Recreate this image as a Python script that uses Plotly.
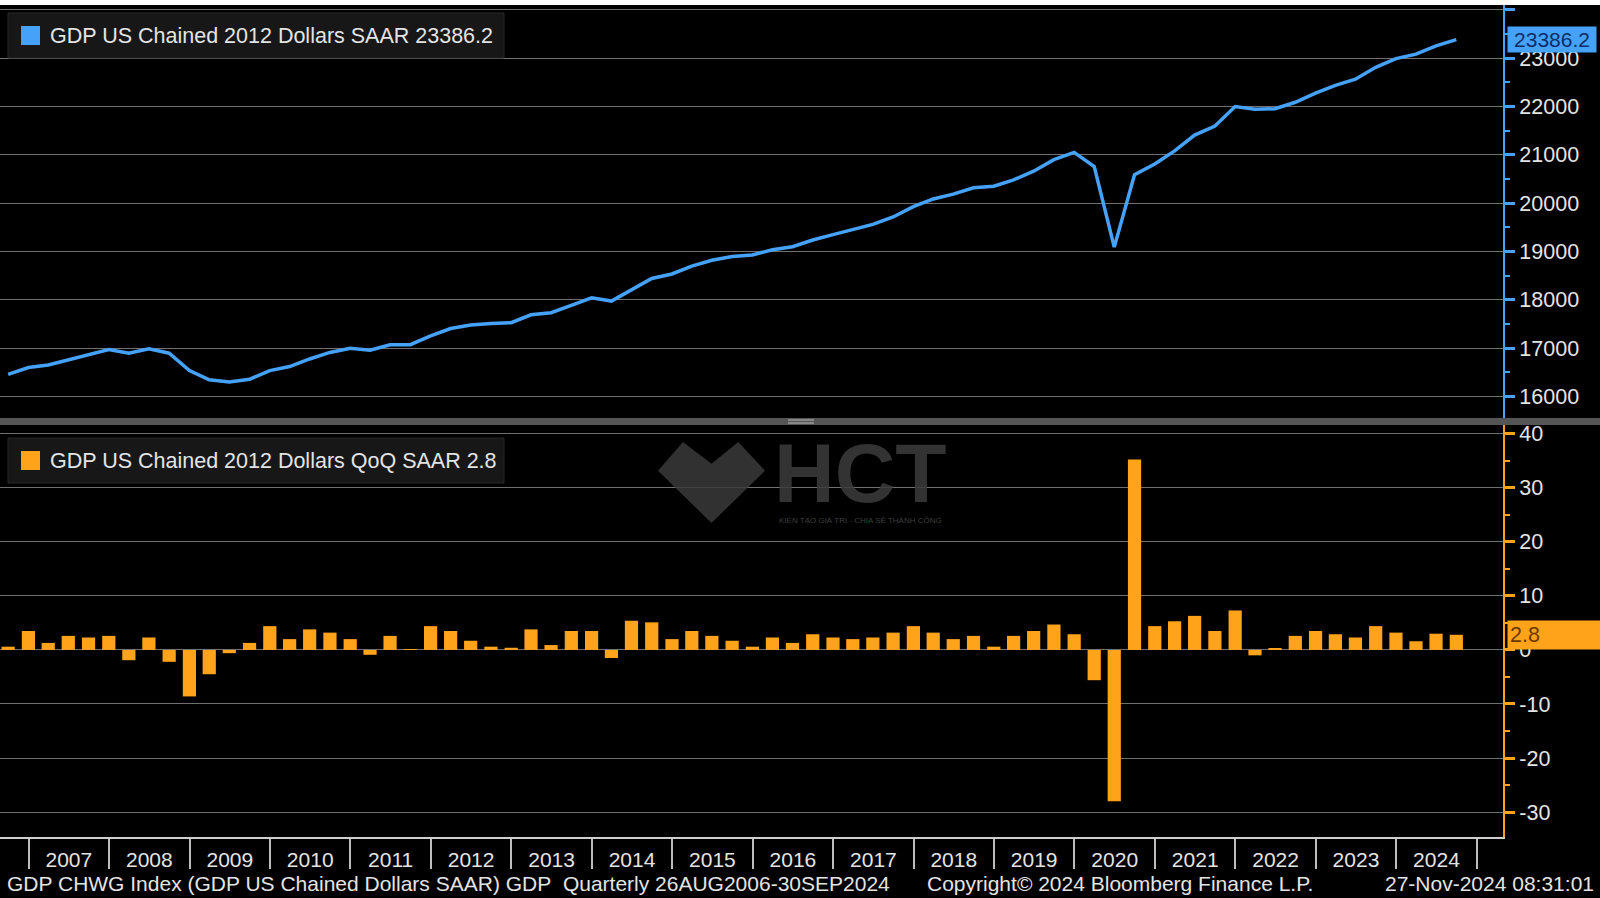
import pandas as pd
import plotly.graph_objects as go

# ---------------- data ----------------
QUARTERS = [
    "2006Q3", "2006Q4",
    "2007Q1", "2007Q2", "2007Q3", "2007Q4",
    "2008Q1", "2008Q2", "2008Q3", "2008Q4",
    "2009Q1", "2009Q2", "2009Q3", "2009Q4",
    "2010Q1", "2010Q2", "2010Q3", "2010Q4",
    "2011Q1", "2011Q2", "2011Q3", "2011Q4",
    "2012Q1", "2012Q2", "2012Q3", "2012Q4",
    "2013Q1", "2013Q2", "2013Q3", "2013Q4",
    "2014Q1", "2014Q2", "2014Q3", "2014Q4",
    "2015Q1", "2015Q2", "2015Q3", "2015Q4",
    "2016Q1", "2016Q2", "2016Q3", "2016Q4",
    "2017Q1", "2017Q2", "2017Q3", "2017Q4",
    "2018Q1", "2018Q2", "2018Q3", "2018Q4",
    "2019Q1", "2019Q2", "2019Q3", "2019Q4",
    "2020Q1", "2020Q2", "2020Q3", "2020Q4",
    "2021Q1", "2021Q2", "2021Q3", "2021Q4",
    "2022Q1", "2022Q2", "2022Q3", "2022Q4",
    "2023Q1", "2023Q2", "2023Q3", "2023Q4",
    "2024Q1", "2024Q2", "2024Q3",
]

GDP_LEVEL = [
    16455, 16598,
    16652, 16762, 16860, 16970,
    16892, 16988, 16895, 16535,
    16345, 16300, 16355, 16535,
    16618, 16775, 16910, 16995,
    16958, 17068, 17070, 17255,
    17405, 17480, 17508, 17526,
    17690, 17732, 17886, 18040,
    17974, 18212, 18442, 18535,
    18697, 18818, 18898, 18928,
    19037, 19100, 19238, 19350,
    19447, 19560, 19714, 19928,
    20087, 20188, 20320, 20352,
    20484, 20662, 20902, 21052,
    20758, 19090, 20590, 20812,
    21083, 21410, 21597, 22000,
    21945, 21955, 22090, 22278,
    22440, 22568, 22812, 22993,
    23085, 23256, 23386.2,
]

GDP_QOQ = [
    0.6, 3.5,
    1.3, 2.6, 2.3, 2.6,
    -1.9, 2.3, -2.2, -8.6,
    -4.5, -0.6, 1.3, 4.4,
    2.0, 3.8, 3.2, 2.0,
    -0.9, 2.6, 0.1, 4.4,
    3.5, 1.7, 0.6, 0.4,
    3.8, 0.9, 3.5, 3.5,
    -1.5, 5.4, 5.1, 2.0,
    3.5, 2.6, 1.7, 0.6,
    2.3, 1.3, 2.9, 2.3,
    2.0, 2.3, 3.2, 4.4,
    3.2, 2.0, 2.6, 0.6,
    2.6, 3.5, 4.7, 2.9,
    -5.6, -28.0, 35.2, 4.4,
    5.3, 6.3, 3.5, 7.3,
    -1.0, 0.3, 2.6, 3.5,
    2.9, 2.3, 4.4, 3.2,
    1.6, 3.0, 2.8,
]

LEVEL_TICKS = [16000, 17000, 18000, 19000, 20000, 21000, 22000, 23000, 24000]
LEVEL_TICK_TEXT = ["16000", "17000", "18000", "19000", "20000", "21000", "22000", "23000", ""]
QOQ_TICKS = [-30, -20, -10, 0, 10, 20, 30, 40]
QOQ_TICK_TEXT = ["-30", "-20", "-10", "0", "10", "20", "30", "40"]

LEVEL_NAME = "GDP US Chained 2012 Dollars SAAR"
QOQ_NAME = "GDP US Chained 2012 Dollars QoQ SAAR"
FOOTER_LEFT = "GDP CHWG Index (GDP US Chained Dollars SAAR) GDP\u00a0\u00a0Quarterly 26AUG2006-30SEP2024"
FOOTER_MID = "Copyright\u00a9 2024 Bloomberg Finance L.P."
FOOTER_RIGHT = "27-Nov-2024 08:31:01"

# ---------------- styling ----------------
W, H = 1600, 898
PL, PR, PT, PB = 0, 1503, 5, 837   # plot area in pixels
FONT = "Liberation Sans, Arial, sans-serif"
BLUE = "#45a2f8"
ORANGE = "#ffa31a"
GRID = "#707070"
TXT = "#e4e4e4"


def px(x):
    return (x - PL) / (PR - PL)


def py(y):
    return (PB - y) / (PB - PT)


dates = pd.PeriodIndex(QUARTERS, freq="Q").end_time.normalize()

fig = go.Figure()
fig.add_trace(go.Bar(
    x=dates, y=GDP_QOQ, xaxis="x", yaxis="y2",
    marker=dict(color=ORANGE, line=dict(width=0)),
    width=60 * 86400000, name=QOQ_NAME,
))
fig.add_trace(go.Scatter(
    x=dates, y=GDP_LEVEL, xaxis="x2", yaxis="y", mode="lines",
    line=dict(color=BLUE, width=3.5), name=LEVEL_NAME,
))

top_dom = [py(418), 1.0]
bot_dom = [0.0, py(425)]

fig.update_layout(
    width=W, height=H,
    margin=dict(l=PL, r=W - PR, t=PT, b=H - PB, pad=0),
    paper_bgcolor="black", plot_bgcolor="black",
    showlegend=False,
    font=dict(family=FONT, color=TXT, size=21),
    xaxis=dict(
        domain=[0, 1], anchor="y2", type="date",
        range=["2006-08-24", "2025-04-30"],
        tickmode="linear", tick0="2007-01-01", dtick="M12",
        ticklabelmode="period", tickformat="%Y",
        ticks="outside", ticklen=30, tickwidth=1.5, tickcolor="#bdbdbd",
        ticklabelstandoff=-27,
        tickfont=dict(size=21, color=TXT, family=FONT),
        showline=True, linecolor="#cfcfcf", linewidth=1.5,
        showgrid=False, zeroline=False,
    ),
    xaxis2=dict(
        domain=[0, 1], anchor="y", matches="x", type="date",
        showticklabels=False, ticks="", showline=False,
        showgrid=False, zeroline=False,
    ),
    yaxis=dict(
        domain=top_dom, anchor="x2", side="right",
        range=[15553, 24103],
        tickmode="array", tickvals=LEVEL_TICKS, ticktext=LEVEL_TICK_TEXT,
        ticks="outside", ticklen=10, tickwidth=3, tickcolor=BLUE,
        tickfont=dict(size=21.5, color=TXT, family=FONT),
        showline=True, linecolor=BLUE, linewidth=2,
        showgrid=True, gridcolor=GRID, gridwidth=1, zeroline=False,
        minor=dict(tickmode="linear", tick0=15500, dtick=1000,
                   ticks="outside", ticklen=5, tickwidth=1.5,
                   tickcolor=BLUE, showgrid=False),
    ),
    yaxis2=dict(
        domain=bot_dom, anchor="x", side="right",
        range=[-34.6, 41.6],
        tickmode="array", tickvals=QOQ_TICKS, ticktext=QOQ_TICK_TEXT,
        ticks="outside", ticklen=10, tickwidth=3, tickcolor=ORANGE,
        tickfont=dict(size=21.5, color=TXT, family=FONT),
        showline=True, linecolor=ORANGE, linewidth=2,
        showgrid=True, gridcolor=GRID, gridwidth=1, zeroline=False,
        minor=dict(tickmode="linear", tick0=-35, dtick=10,
                   ticks="outside", ticklen=5, tickwidth=1.5,
                   tickcolor=ORANGE, showgrid=False),
    ),
)

shapes = []
# white strip at very top
shapes.append(dict(type="rect", xref="paper", yref="paper",
                   x0=-0.01, x1=px(W) + 0.01, y0=py(5), y1=py(0) + 0.01,
                   fillcolor="white", line=dict(width=0), layer="above"))
# panel separator bar
shapes.append(dict(type="rect", xref="paper", yref="paper",
                   x0=px(0), x1=px(W), y0=py(425), y1=py(418),
                   fillcolor="#555555", line=dict(width=0), layer="above"))
for yy in (420, 423):
    shapes.append(dict(type="line", xref="paper", yref="paper",
                       x0=px(788), x1=px(814), y0=py(yy), y1=py(yy),
                       line=dict(color="#bbbbbb", width=1), layer="above"))
# legend boxes + colour squares
for (y0, y1, col) in ((13, 58, BLUE), (438, 483, ORANGE)):
    shapes.append(dict(type="rect", xref="paper", yref="paper",
                       x0=px(8), x1=px(504), y0=py(y1), y1=py(y0),
                       fillcolor="#171717", line=dict(color="#262626", width=1),
                       layer="above"))
    cy = (y0 + y1) / 2
    shapes.append(dict(type="rect", xref="paper", yref="paper",
                       x0=px(21), x1=px(40), y0=py(cy + 9.5), y1=py(cy - 9.5),
                       fillcolor=col, line=dict(width=0), layer="above"))
# watermark diamond
dx0, dy0, dw, dh = 658, 442, 107, 81
pts = [(0, 0.354), (0.233, 0), (0.5, 0.27), (0.75, 0), (1, 0.354), (0.5, 1)]
path = "M " + " L ".join(f"{px(dx0 + a * dw):.5f},{py(dy0 + b * dh):.5f}" for a, b in pts) + " Z"
shapes.append(dict(type="path", xref="paper", yref="paper", path=path,
                   fillcolor="#3a3a3a", opacity=0.85, line=dict(width=0),
                   layer="above"))
fig.update_layout(shapes=shapes)

ann = []
# legend texts
ann.append(dict(xref="paper", yref="paper", x=px(48), y=py(35.5),
                xanchor="left", yanchor="middle", showarrow=False,
                text=f"{LEVEL_NAME} {GDP_LEVEL[-1]:.1f}",
                font=dict(size=21.5, color=TXT, family=FONT)))
ann.append(dict(xref="paper", yref="paper", x=px(48), y=py(460.5),
                xanchor="left", yanchor="middle", showarrow=False,
                text=f"{QOQ_NAME} {GDP_QOQ[-1]:.1f}",
                font=dict(size=21.5, color=TXT, family=FONT)))
# last-value flags
ann.append(dict(xref="paper", yref="y", x=1, y=GDP_LEVEL[-1],
                xanchor="left", yanchor="middle", xshift=4, showarrow=False,
                text=f"{GDP_LEVEL[-1]:.1f}", bgcolor=BLUE, borderpad=1,
                width=86, align="center",
                font=dict(size=21, color="#0b2d6b", family=FONT)))
ann.append(dict(xref="paper", yref="y2", x=1, y=GDP_QOQ[-1],
                xanchor="left", yanchor="middle", xshift=4, showarrow=False,
                text=f"{GDP_QOQ[-1]:.1f}", bgcolor=ORANGE, borderpad=2,
                width=92, align="left",
                font=dict(size=21.5, color="#6b3a00", family=FONT)))
# watermark text
ann.append(dict(xref="paper", yref="paper", x=px(860), y=py(473),
                xanchor="center", yanchor="middle", showarrow=False,
                text="<b>HCT</b>", opacity=0.85,
                font=dict(size=84, color="#3c3c3c", family=FONT)))
ann.append(dict(xref="paper", yref="paper", x=px(860), y=py(520),
                xanchor="center", yanchor="middle", showarrow=False,
                text="KIẾN TẠO GIÁ TRỊ - CHIA SẺ THÀNH CÔNG", opacity=0.85,
                font=dict(size=8, color="#4a4a4a", family=FONT)))
# footer
fy = py(883.5)
ann.append(dict(xref="paper", yref="paper", x=px(5), y=fy, xanchor="left",
                yanchor="middle", showarrow=False, text=FOOTER_LEFT,
                font=dict(size=21, color=TXT, family=FONT)))
ann.append(dict(xref="paper", yref="paper", x=px(925), y=fy, xanchor="left",
                yanchor="middle", showarrow=False, text=FOOTER_MID,
                font=dict(size=21, color=TXT, family=FONT)))
ann.append(dict(xref="paper", yref="paper", x=px(1596), y=fy, xanchor="right",
                yanchor="middle", showarrow=False, text=FOOTER_RIGHT,
                font=dict(size=21, color=TXT, family=FONT)))
fig.update_layout(annotations=ann)

fig.write_html(
    "out.html",
    config={"displayModeBar": False},
    post_script="document.body.style.margin='0px';"
                "document.body.style.padding='0px';"
                "document.body.style.overflow='hidden';",
)
